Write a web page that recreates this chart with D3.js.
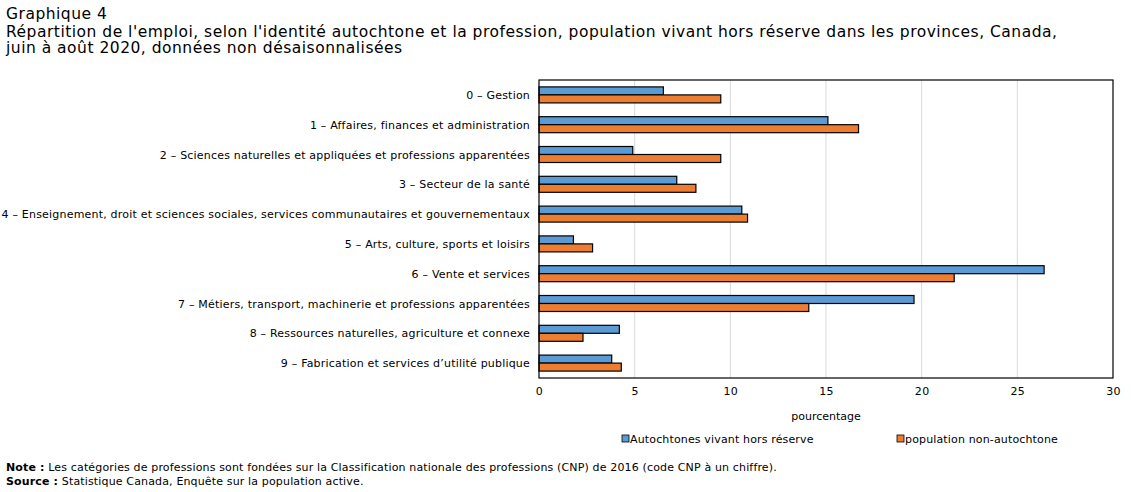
<!DOCTYPE html>
<html>
<head>
<meta charset="utf-8">
<script src="https://cdn.jsdelivr.net/npm/d3@7"></script>
<style>
  body { margin: 0; background: #fff; }
  svg { font-family: "DejaVu Sans", Verdana, sans-serif; }
</style>
</head>
<body>
<svg id="chart" width="1134" height="492"></svg>
<script>
// categories and values (percent)
var categories = [
  "0 – Gestion",
  "1 – Affaires, finances et administration",
  "2 – Sciences naturelles et appliquées et professions apparentées",
  "3 – Secteur de la santé",
  "4 – Enseignement, droit et sciences sociales, services communautaires et gouvernementaux",
  "5 – Arts, culture, sports et loisirs",
  "6 – Vente et services",
  "7 – Métiers, transport, machinerie et professions apparentées",
  "8 – Ressources naturelles, agriculture et connexe",
  "9 – Fabrication et services d’utilité publique"
];
var autochtones = [6.5, 15.1, 4.9, 7.2, 10.6, 1.8, 26.4, 19.6, 4.2, 3.8];
var nonAutochtones = [9.5, 16.7, 9.5, 8.2, 10.9, 2.8, 21.7, 14.1, 2.3, 4.3];
var seriesNames = ["Autochtones vivant hors réserve", "population non-autochtone"];
var seriesColors = ["#5b9bd5", "#ed7d31"];
var xTicks = [0, 5, 10, 15, 20, 25, 30];

var svg = d3.select("#chart");
var margin = {top: 80, left: 539, right: 1113, bottom: 378};

var x = d3.scaleLinear().domain([0, 30]).range([margin.left, margin.right]);
var y = d3.scaleBand().domain(categories).range([margin.top, margin.bottom]);
var barH = 8;

// titles
var title = svg.append("g").attr("font-size", 15.5).attr("letter-spacing", 0.5).attr("fill", "#000");
title.append("text").attr("x", 6).attr("y", 19).text("Graphique 4");
title.append("text").attr("x", 6).attr("y", 37)
  .text("Répartition de l'emploi, selon l'identité autochtone et la profession, population vivant hors réserve dans les provinces, Canada,");
title.append("text").attr("x", 6).attr("y", 53)
  .text("juin à août 2020, données non désaisonnalisées");

// gridlines
svg.append("g").selectAll("line")
  .data(xTicks.filter(d => d > 0 && d < 30))
  .join("line")
  .attr("x1", d => x(d)).attr("x2", d => x(d))
  .attr("y1", margin.top).attr("y2", margin.bottom)
  .attr("stroke", "#d9d9d9").attr("stroke-width", 1);

// bars
var rows = categories.map((c, i) => ({cat: c, vals: [autochtones[i], nonAutochtones[i]]}));
var g = svg.append("g");
rows.forEach(r => {
  var cy = y(r.cat) + y.bandwidth() / 2;
  r.vals.forEach((v, j) => {
    g.append("rect")
      .attr("x", x(0))
      .attr("y", cy - barH + j * barH)
      .attr("width", x(v) - x(0))
      .attr("height", barH)
      .attr("fill", seriesColors[j])
      .attr("stroke", "#000")
      .attr("stroke-width", 1.2);
  });
});

// plot frame
svg.append("rect")
  .attr("x", margin.left).attr("y", margin.top)
  .attr("width", margin.right - margin.left).attr("height", margin.bottom - margin.top)
  .attr("fill", "none").attr("stroke", "#000").attr("stroke-width", 1.2);

// category labels
svg.append("g").attr("font-size", 11).attr("letter-spacing", 0.2).attr("text-anchor", "end")
  .selectAll("text").data(categories).join("text")
  .attr("x", 530)
  .attr("y", d => y(d) + y.bandwidth() / 2 + 4)
  .text(d => d);

// x axis
var xAxis = d3.axisBottom(x).tickValues(xTicks).tickSize(0).tickPadding(9);
svg.append("g")
  .attr("transform", "translate(0," + margin.bottom + ")")
  .call(xAxis)
  .call(a => a.select(".domain").remove())
  .call(a => a.selectAll("text").attr("font-size", 11).attr("letter-spacing", 0.3)
    .attr("font-family", "DejaVu Sans, Verdana, sans-serif").attr("fill", "#000"));

svg.append("text").attr("x", x(15)).attr("y", 420)
  .attr("text-anchor", "middle").attr("font-size", 11).text("pourcentage");

// legend
var legendX = [622, 897];
var legend = svg.append("g").attr("font-size", 11).attr("letter-spacing", 0.15);
seriesNames.forEach((n, i) => {
  legend.append("rect").attr("x", legendX[i]).attr("y", 435)
    .attr("width", 7).attr("height", 7)
    .attr("fill", seriesColors[i]).attr("stroke", "#000").attr("stroke-width", 0.8);
  legend.append("text").attr("x", legendX[i] + 8).attr("y", 443).text(n);
});

// notes
var notes = svg.append("g").attr("font-size", 11).attr("letter-spacing", 0.15);
var n1 = notes.append("text").attr("x", 6).attr("y", 471);
n1.append("tspan").attr("font-weight", "bold").text("Note :");
n1.append("tspan").text(" Les catégories de professions sont fondées sur la Classification nationale des professions (CNP) de 2016 (code CNP à un chiffre).");
var n2 = notes.append("text").attr("x", 6).attr("y", 485);
n2.append("tspan").attr("font-weight", "bold").text("Source :");
n2.append("tspan").text(" Statistique Canada, Enquête sur la population active.");
</script>
</body>
</html>
